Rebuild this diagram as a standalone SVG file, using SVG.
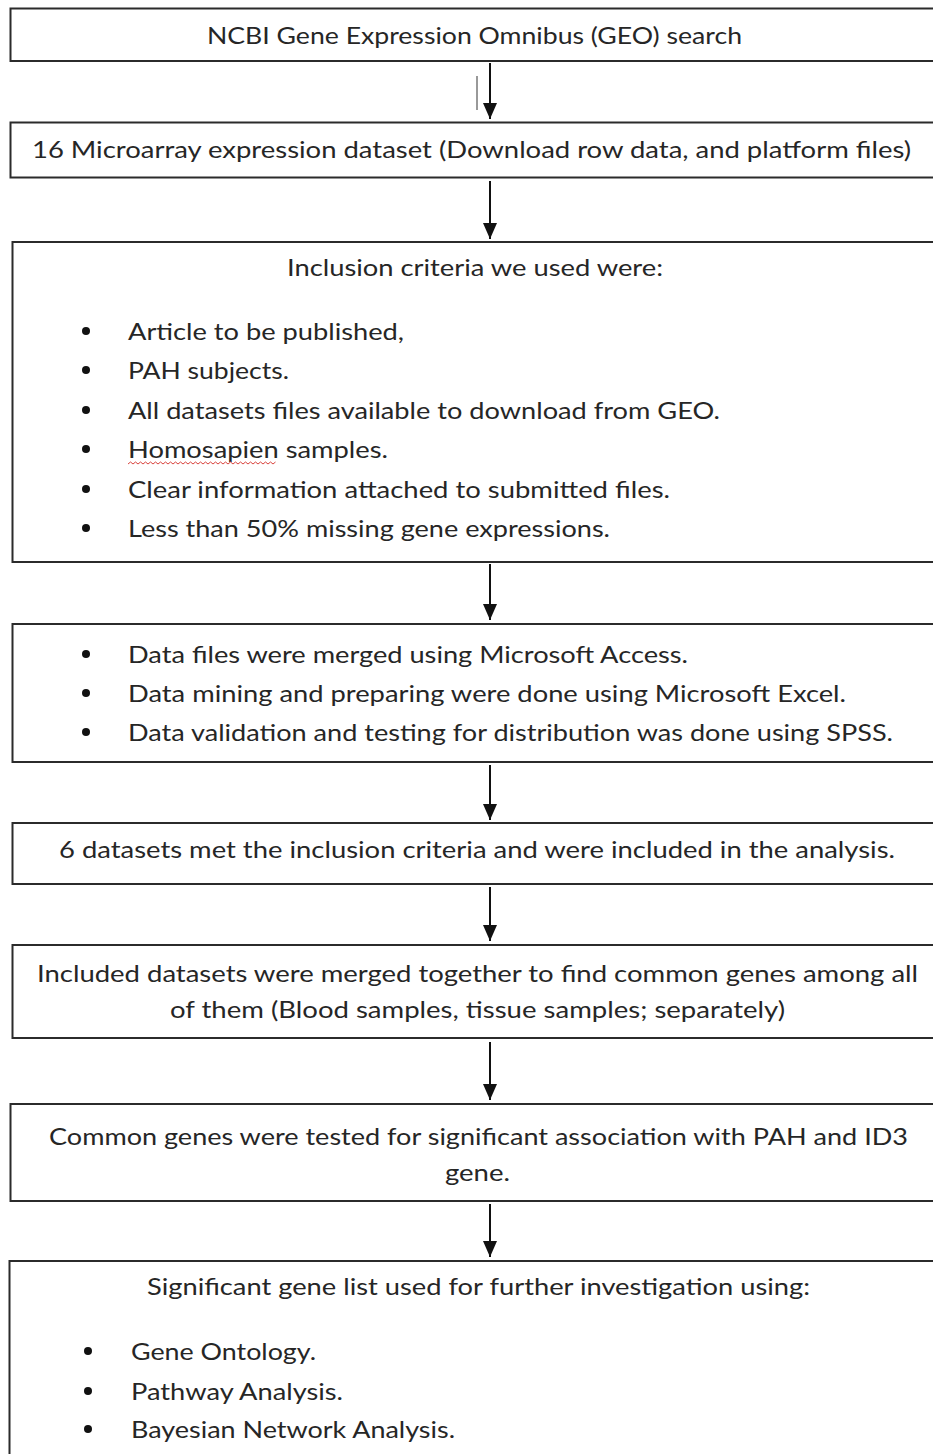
<svg xmlns="http://www.w3.org/2000/svg" width="933" height="1454" viewBox="0 0 933 1454">
<defs>
<style>
.box{fill:#fff;stroke:#2b2b2b;stroke-width:2}
.t{font-family:Lato,"Open Sans","Liberation Sans",sans-serif;font-size:24px;fill:#262626}
.bul{fill:#111}
.con{stroke:#111;stroke-width:2;fill:none;marker-end:url(#ah)}
</style>
<marker id="ah" markerUnits="userSpaceOnUse" viewBox="0 0 16 14" refX="16" refY="7" markerWidth="16" markerHeight="14" orient="auto">
<path d="M0,0 L16,7 L0,14 z" fill="#111"/>
</marker>
</defs>
<rect width="933" height="1454" fill="#fff"/>

<g id="connectors">
<line class="con" x1="490" y1="63" x2="490" y2="119"/>
<line x1="477" y1="76" x2="477" y2="110" stroke="#555" stroke-width="1.2"/>
<line class="con" x1="490" y1="181" x2="490" y2="239"/>
<line class="con" x1="490" y1="564" x2="490" y2="620"/>
<line class="con" x1="490" y1="765" x2="490" y2="820"/>
<line class="con" x1="490" y1="887" x2="490" y2="941"/>
<line class="con" x1="490" y1="1042" x2="490" y2="1100"/>
<line class="con" x1="490" y1="1204" x2="490" y2="1257"/>
</g>

<g id="n1">
<rect class="box" x="10.5" y="8.5" width="940" height="52.5"/>
<text class="t" x="207" y="44" textLength="535" lengthAdjust="spacingAndGlyphs">NCBI Gene Expression Omnibus (GEO) search</text>
</g>

<g id="n2">
<rect class="box" x="10.5" y="122.5" width="940" height="55"/>
<text class="t" x="32" y="158" textLength="879" lengthAdjust="spacingAndGlyphs">16 Microarray expression dataset (Download row data, and platform files)</text>
</g>

<g id="n3">
<rect class="box" x="12.5" y="242" width="940" height="320"/>
<text class="t" x="287" y="276" textLength="376" lengthAdjust="spacingAndGlyphs">Inclusion criteria we used were:</text>
<circle class="bul" cx="86" cy="331" r="4"/>
<circle class="bul" cx="86" cy="370" r="4"/>
<circle class="bul" cx="86" cy="410" r="4"/>
<circle class="bul" cx="86" cy="449" r="4"/>
<circle class="bul" cx="86" cy="489" r="4"/>
<circle class="bul" cx="86" cy="528" r="4"/>
<text class="t" x="128" y="340" textLength="276" lengthAdjust="spacingAndGlyphs">Article to be published,</text>
<text class="t" x="128" y="379" textLength="161" lengthAdjust="spacingAndGlyphs">PAH subjects.</text>
<text class="t" x="128" y="419" textLength="592" lengthAdjust="spacingAndGlyphs">All datasets files available to download from GEO.</text>
<text class="t" x="128" y="458" textLength="260" lengthAdjust="spacingAndGlyphs">Homosapien samples.</text>
<path d="M128,464 l2.5,-2 l2.5,2 l2.5,-2 l2.5,2 l2.5,-2 l2.5,2 l2.5,-2 l2.5,2 l2.5,-2 l2.5,2 l2.5,-2 l2.5,2 l2.5,-2 l2.5,2 l2.5,-2 l2.5,2 l2.5,-2 l2.5,2 l2.5,-2 l2.5,2 l2.5,-2 l2.5,2 l2.5,-2 l2.5,2 l2.5,-2 l2.5,2 l2.5,-2 l2.5,2 l2.5,-2 l2.5,2 l2.5,-2 l2.5,2 l2.5,-2 l2.5,2 l2.5,-2 l2.5,2 l2.5,-2 l2.5,2 l2.5,-2 l2.5,2 l2.5,-2 l2.5,2 l2.5,-2 l2.5,2 l2.5,-2 l2.5,2 l2.5,-2 l2.5,2 l2.5,-2 l2.5,2 l2.5,-2 l2.5,2 l2.5,-2 l2.5,2 l2.5,-2 l2.5,2 l2.5,-2 l2.5,2 l2.5,-2" fill="none" stroke="#d9453f" stroke-width="1"/>
<text class="t" x="128" y="498" textLength="542" lengthAdjust="spacingAndGlyphs">Clear information attached to submitted files.</text>
<text class="t" x="128" y="537" textLength="482" lengthAdjust="spacingAndGlyphs">Less than 50% missing gene expressions.</text>
</g>

<g id="n4">
<rect class="box" x="12.5" y="624" width="940" height="138"/>
<circle class="bul" cx="86" cy="654" r="4"/>
<circle class="bul" cx="86" cy="693" r="4"/>
<circle class="bul" cx="86" cy="732" r="4"/>
<text class="t" x="128" y="663" textLength="560" lengthAdjust="spacingAndGlyphs">Data files were merged using Microsoft Access.</text>
<text class="t" x="128" y="702" textLength="718" lengthAdjust="spacingAndGlyphs">Data mining and preparing were done using Microsoft Excel.</text>
<text class="t" x="128" y="741" textLength="765" lengthAdjust="spacingAndGlyphs">Data validation and testing for distribution was done using SPSS.</text>
</g>

<g id="n5">
<rect class="box" x="12.5" y="823" width="940" height="61"/>
<text class="t" x="59" y="858" textLength="836" lengthAdjust="spacingAndGlyphs">6 datasets met the inclusion criteria and were included in the analysis.</text>
</g>

<g id="n6">
<rect class="box" x="12.5" y="945" width="940" height="93"/>
<text class="t" x="37" y="982" textLength="881" lengthAdjust="spacingAndGlyphs">Included datasets were merged together to find common genes among all</text>
<text class="t" x="170" y="1018" textLength="615" lengthAdjust="spacingAndGlyphs">of them (Blood samples, tissue samples; separately)</text>
</g>

<g id="n7">
<rect class="box" x="10.5" y="1104" width="940" height="97"/>
<text class="t" x="49" y="1145" textLength="859" lengthAdjust="spacingAndGlyphs">Common genes were tested for significant association with PAH and ID3</text>
<text class="t" x="445" y="1181" textLength="65" lengthAdjust="spacingAndGlyphs">gene.</text>
</g>

<g id="n8">
<rect class="box" x="9.5" y="1261" width="940" height="230"/>
<text class="t" x="147" y="1295" textLength="663" lengthAdjust="spacingAndGlyphs">Significant gene list used for further investigation using:</text>
<circle class="bul" cx="88" cy="1351" r="4"/>
<circle class="bul" cx="88" cy="1391" r="4"/>
<circle class="bul" cx="88" cy="1429" r="4"/>
<text class="t" x="131" y="1360" textLength="185" lengthAdjust="spacingAndGlyphs">Gene Ontology.</text>
<text class="t" x="131" y="1400" textLength="212" lengthAdjust="spacingAndGlyphs">Pathway Analysis.</text>
<text class="t" x="131" y="1438" textLength="324" lengthAdjust="spacingAndGlyphs">Bayesian Network Analysis.</text>
</g>
</svg>
